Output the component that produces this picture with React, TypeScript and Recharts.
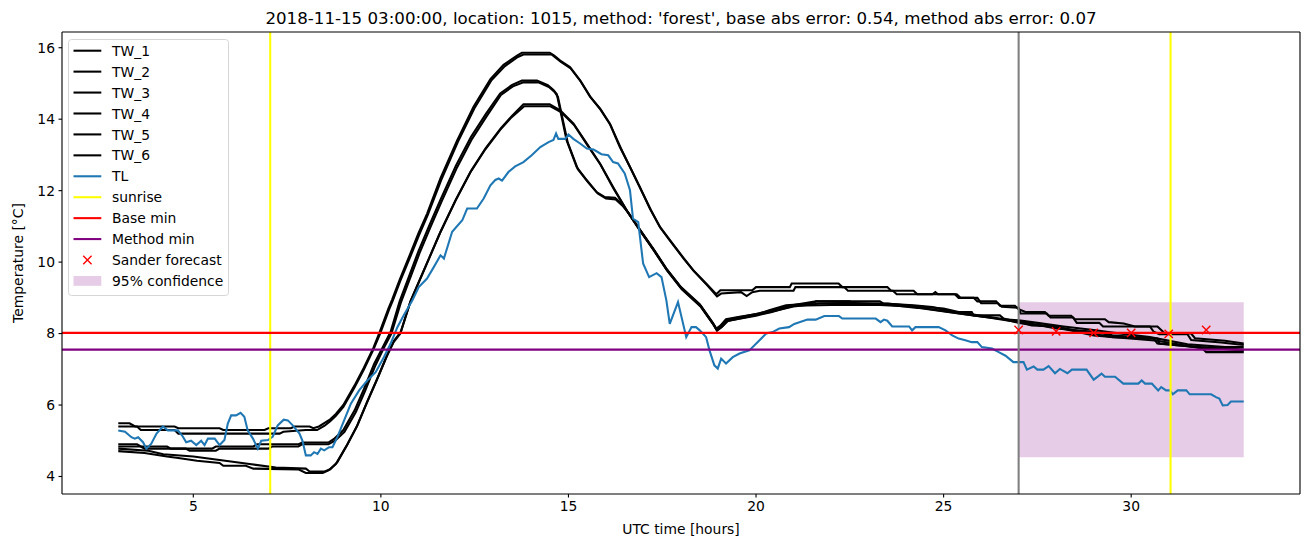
import React from 'react';
import {
  ComposedChart,
  Line,
  XAxis,
  YAxis,
  ReferenceLine,
  ReferenceArea,
  Scatter,
  Legend,
} from 'recharts';

type P = [number, number];

// ---- data (hours UTC, temperature °C) ----
const TW_1: P[] = [
  [3.0, 5.49], [3.3, 5.49], [3.45, 5.4], [4.5, 5.4], [4.6, 5.35], [5.7, 5.35], [5.8, 5.3], [6.9, 5.3],
  [7.0, 5.35], [7.6, 5.35], [7.7, 5.4], [8.1, 5.4], [8.2, 5.35], [8.35, 5.4], [8.5, 5.5], [8.65, 5.6],
  [8.8, 5.75], [9.0, 6.0], [9.3, 6.55], [9.55, 7.05], [9.8, 7.6], [9.96, 8.02], [10.2, 8.7], [10.3, 8.95],
  [10.5, 9.5], [10.79, 10.25], [11.0, 10.8], [11.23, 11.35], [11.59, 12.35], [12.03, 13.4], [12.47, 14.35],
  [12.92, 15.12], [13.27, 15.52], [13.63, 15.78], [13.76, 15.86], [14.5, 15.86], [14.62, 15.78], [14.78, 15.64],
  [15.04, 15.46], [15.31, 15.09], [15.57, 14.64], [15.84, 14.3], [16.1, 13.88], [16.37, 13.22], [16.64, 12.66],
  [16.9, 12.1], [17.17, 11.5], [17.43, 11.0], [17.7, 10.62], [18.05, 10.14], [18.32, 9.78], [18.67, 9.4],
  [18.94, 9.1], [19.05, 9.21], [19.9, 9.21], [20.0, 9.3], [20.9, 9.3], [20.95, 9.4], [22.2, 9.4], [22.3, 9.3],
  [23.5, 9.3], [23.6, 9.2], [24.2, 9.2], [24.3, 9.1], [25.3, 9.1], [25.4, 9.0], [25.8, 9.0], [25.9, 8.9],
  [26.4, 8.9], [26.5, 8.78], [26.9, 8.78], [27.0, 8.68], [27.2, 8.6], [27.7, 8.6], [27.8, 8.5], [28.4, 8.5],
  [28.5, 8.4], [29.3, 8.4], [29.4, 8.32], [29.8, 8.28], [30.1, 8.2], [30.7, 8.2], [30.9, 8.0], [31.6, 8.0],
  [31.7, 7.87], [32.5, 7.8], [33.0, 7.72],
];
const TW_2: P[] = [
  [3.0, 5.4], [3.5, 5.4], [3.6, 5.3], [4.5, 5.3], [4.6, 5.2], [7.3, 5.2], [7.4, 5.25], [8.0, 5.3], [8.3, 5.3],
  [8.5, 5.42], [8.65, 5.55], [8.8, 5.7], [9.0, 5.95], [9.3, 6.5], [9.55, 7.0], [9.8, 7.55], [9.98, 8.0],
  [10.22, 8.68], [10.32, 8.93], [10.52, 9.48], [10.81, 10.22], [11.02, 10.76], [11.25, 11.32], [11.61, 12.3],
  [12.05, 13.36], [12.49, 14.3], [12.94, 15.08], [13.3, 15.48], [13.65, 15.74], [13.8, 15.81], [14.55, 15.81],
  [14.8, 15.6], [15.06, 15.42], [15.33, 15.05], [15.6, 14.6], [15.86, 14.26], [16.12, 13.84], [16.4, 13.18],
  [16.66, 12.62], [16.92, 12.06], [17.2, 11.45], [17.45, 10.96], [17.72, 10.58], [18.07, 10.1], [18.35, 9.74],
  [18.7, 9.35], [18.96, 9.04], [19.07, 9.12], [19.6, 9.16], [19.75, 9.05], [19.9, 9.16], [20.1, 9.2], [21.0, 9.2],
  [21.05, 9.3], [22.35, 9.3], [22.45, 9.2], [23.65, 9.2], [23.75, 9.1], [24.7, 9.1], [24.78, 9.16], [24.85, 9.1],
  [25.35, 9.1], [25.45, 9.0], [25.9, 9.0], [26.0, 8.85], [26.45, 8.85], [26.55, 8.75], [27.0, 8.72], [27.05, 8.56],
  [27.75, 8.56], [27.85, 8.45], [28.45, 8.45], [28.55, 8.3], [29.15, 8.3], [29.25, 8.2], [30.5, 8.2], [30.6, 8.05],
  [30.75, 7.98], [31.5, 7.98], [31.6, 7.82], [32.4, 7.75], [33.0, 7.68],
];
const TW_3: P[] = [
  [3.0, 4.9], [3.5, 4.9], [3.6, 4.84], [4.3, 4.84], [4.4, 4.78], [5.5, 4.78], [5.6, 4.84], [6.6, 4.84], [6.7, 4.9],
  [7.8, 4.9], [7.9, 4.95], [8.6, 4.95], [8.75, 5.05], [9.0, 5.3], [9.3, 5.85], [9.55, 6.45], [9.82, 7.15],
  [10.05, 7.62], [10.26, 8.05], [10.5, 8.9], [11.0, 10.3], [11.3, 11.05], [11.59, 11.75], [12.0, 12.7],
  [12.4, 13.5], [12.8, 14.15], [13.18, 14.72], [13.5, 14.96], [13.76, 15.08], [14.16, 15.08], [14.45, 14.95],
  [14.6, 14.82], [14.69, 14.7], [14.82, 14.06], [14.95, 13.41], [15.22, 12.66], [15.49, 12.29], [15.75, 11.96],
  [15.97, 11.82], [16.24, 11.8], [16.41, 11.64], [16.55, 11.45], [16.9, 10.92], [17.26, 10.38], [17.61, 9.82],
  [18.0, 9.3], [18.5, 8.82], [18.85, 8.3], [18.94, 8.14], [19.05, 8.22], [19.2, 8.4], [19.56, 8.47], [20.1, 8.56],
  [20.35, 8.65], [20.8, 8.79], [21.5, 8.84], [21.6, 8.9], [23.3, 8.9], [23.4, 8.84], [24.2, 8.79], [24.7, 8.74],
  [25.3, 8.6], [25.75, 8.6], [25.8, 8.51], [26.5, 8.51], [26.6, 8.42], [27.0, 8.32], [27.35, 8.23], [28.0, 8.2],
  [28.9, 8.0], [29.5, 7.9], [30.7, 7.86], [30.75, 7.72], [32.0, 7.6], [33.0, 7.55],
];
const TW_4: P[] = [
  [3.0, 4.84], [3.6, 4.84], [3.7, 4.78], [4.8, 4.78], [4.9, 4.72], [5.6, 4.72], [5.7, 4.78], [7.0, 4.78],
  [7.1, 4.84], [7.8, 4.84], [7.9, 4.9], [8.6, 4.9], [8.78, 5.0], [9.03, 5.25], [9.33, 5.8], [9.58, 6.4],
  [9.85, 7.1], [10.08, 7.6], [10.28, 8.0], [10.53, 8.86], [11.03, 10.25], [11.33, 11.0], [11.62, 11.7],
  [12.03, 12.65], [12.43, 13.45], [12.83, 14.1], [13.2, 14.68], [13.52, 14.92], [13.8, 15.03], [14.2, 15.03],
  [14.48, 14.9], [14.63, 14.76], [14.72, 14.62], [14.85, 13.98], [14.98, 13.35], [15.25, 12.6], [15.52, 12.24],
  [15.78, 11.92], [16.0, 11.78], [16.26, 11.75], [16.44, 11.58], [16.58, 11.4], [16.92, 10.88], [17.28, 10.33],
  [17.63, 9.78], [18.02, 9.26], [18.52, 8.78], [18.87, 8.25], [18.96, 8.1], [19.1, 8.2], [19.22, 8.35],
  [20.0, 8.5], [20.4, 8.6], [21.0, 8.78], [22.0, 8.8], [23.3, 8.8], [24.2, 8.75], [25.3, 8.58], [26.0, 8.48],
  [26.6, 8.4], [27.0, 8.3], [28.0, 8.18], [29.0, 7.95], [30.7, 7.8], [31.9, 7.58], [32.0, 7.48], [33.0, 7.48],
];
const TW_5: P[] = [
  [3.0, 4.78], [3.8, 4.72], [4.2, 4.62], [5.0, 4.56], [5.8, 4.45], [6.5, 4.35], [7.2, 4.25], [8.0, 4.22],
  [8.1, 4.14], [8.5, 4.14], [8.65, 4.2], [8.84, 4.4], [9.11, 4.9], [9.38, 5.45], [9.64, 6.1], [9.91, 6.75],
  [10.17, 7.4], [10.35, 7.8], [10.53, 8.05], [10.8, 8.93], [11.2, 9.9], [11.59, 10.85], [12.0, 11.75],
  [12.4, 12.55], [12.8, 13.2], [13.2, 13.75], [13.5, 14.1], [13.8, 14.42], [14.5, 14.42], [14.78, 14.25],
  [15.13, 13.88], [15.49, 13.32], [15.84, 12.76], [16.19, 12.1], [16.55, 11.45], [16.9, 10.9], [17.26, 10.36],
  [17.61, 9.8], [18.0, 9.28], [18.5, 8.8], [18.85, 8.28], [18.94, 8.12], [19.05, 8.2], [19.2, 8.38], [20.0, 8.55],
  [21.0, 8.8], [21.6, 8.9], [22.5, 8.9], [22.6, 8.84], [23.5, 8.84], [24.2, 8.77], [25.0, 8.7], [25.4, 8.6],
  [26.0, 8.5], [26.6, 8.4], [27.0, 8.37], [27.5, 8.3], [28.2, 8.2], [29.0, 8.1], [29.7, 8.0], [30.5, 7.9],
  [31.5, 7.7], [32.5, 7.62], [33.0, 7.62],
];
const TW_6: P[] = [
  [3.0, 4.71], [3.7, 4.66], [4.3, 4.56], [4.6, 4.52], [5.1, 4.44], [5.7, 4.38], [5.8, 4.3], [6.4, 4.3],
  [6.6, 4.22], [7.8, 4.2], [8.0, 4.1], [8.45, 4.1], [8.6, 4.17], [8.8, 4.35], [9.08, 4.85], [9.36, 5.4],
  [9.62, 6.05], [9.89, 6.7], [10.15, 7.35], [10.34, 7.76], [10.52, 8.0], [10.78, 8.88], [11.18, 9.85],
  [11.57, 10.8], [11.98, 11.7], [12.38, 12.5], [12.78, 13.15], [13.18, 13.7], [13.48, 14.05], [13.82, 14.36],
  [14.52, 14.36], [14.8, 14.2], [15.15, 13.84], [15.5, 13.28], [15.86, 12.72], [16.2, 12.06], [16.57, 11.42],
  [16.92, 10.86], [17.28, 10.32], [17.63, 9.76], [18.02, 9.24], [18.52, 8.76], [18.87, 8.24], [18.96, 8.08],
  [19.08, 8.18], [19.25, 8.35], [20.0, 8.52], [21.0, 8.76], [21.7, 8.84], [22.5, 8.86], [23.6, 8.8],
  [24.3, 8.72], [25.5, 8.55], [26.2, 8.45], [26.7, 8.37], [27.3, 8.28], [28.0, 8.14], [29.0, 8.05],
  [29.5, 7.95], [30.6, 7.86], [30.7, 7.72], [31.8, 7.62], [33.0, 7.53],
];
const TL: P[] = [
  [3.0, 5.29], [3.18, 5.25], [3.35, 5.1], [3.44, 5.06], [3.53, 5.1], [3.66, 4.96], [3.75, 4.78], [3.88, 4.92],
  [4.02, 5.2], [4.19, 5.4], [4.32, 5.29], [4.59, 5.29], [4.72, 5.12], [4.81, 4.96], [4.94, 5.0], [5.08, 4.88],
  [5.21, 5.0], [5.3, 4.88], [5.39, 5.06], [5.57, 5.06], [5.7, 4.88], [5.83, 5.02], [5.92, 5.48], [6.01, 5.71],
  [6.14, 5.71], [6.26, 5.78], [6.36, 5.67], [6.45, 5.29], [6.59, 5.06], [6.72, 4.78], [6.81, 5.0], [6.99, 5.02],
  [7.12, 5.12], [7.25, 5.43], [7.41, 5.59], [7.52, 5.57], [7.65, 5.43], [7.83, 5.2], [7.91, 5.0], [8.0, 4.59],
  [8.13, 4.59], [8.22, 4.68], [8.31, 4.63], [8.4, 4.78], [8.49, 4.73], [8.62, 4.82], [8.71, 4.82], [8.84, 5.1],
  [9.02, 5.57], [9.2, 6.04], [9.42, 6.41], [9.64, 6.69], [9.86, 6.92], [10.08, 7.34], [10.26, 7.72],
  [10.44, 8.18], [10.61, 8.51], [10.84, 8.93], [11.01, 9.3], [11.23, 9.54], [11.41, 9.86], [11.59, 10.19],
  [11.68, 10.1], [11.9, 10.85], [12.17, 11.17], [12.3, 11.5], [12.56, 11.5], [12.74, 11.78], [12.92, 12.15],
  [13.05, 12.3], [13.14, 12.34], [13.23, 12.28], [13.4, 12.52], [13.58, 12.68], [13.8, 12.8], [14.02, 12.99],
  [14.25, 13.22], [14.47, 13.36], [14.6, 13.42], [14.67, 13.6], [14.73, 13.45], [14.91, 13.45], [15.0, 13.57],
  [15.13, 13.45], [15.31, 13.32], [15.49, 13.18], [15.67, 13.15], [15.88, 13.02], [16.06, 12.99], [16.19, 12.8],
  [16.32, 12.76], [16.5, 12.48], [16.64, 12.01], [16.72, 11.22], [16.86, 11.12], [16.99, 9.96], [17.15, 9.58],
  [17.35, 9.69], [17.48, 9.58], [17.61, 8.93], [17.7, 8.27], [17.92, 8.88], [18.14, 7.9], [18.28, 8.18],
  [18.4, 8.18], [18.5, 8.09], [18.67, 7.9], [18.76, 7.53], [18.89, 7.11], [18.98, 7.02], [19.07, 7.3],
  [19.2, 7.16], [19.38, 7.34], [19.56, 7.44], [19.82, 7.53], [20.04, 7.76], [20.27, 8.0], [20.44, 8.04],
  [20.62, 8.14], [20.88, 8.18], [21.02, 8.27], [21.37, 8.39], [21.59, 8.39], [21.82, 8.49], [22.21, 8.49],
  [22.3, 8.42], [23.19, 8.42], [23.32, 8.32], [23.41, 8.39], [23.5, 8.36], [23.63, 8.2], [24.08, 8.2],
  [24.16, 8.09], [24.25, 8.18], [24.87, 8.18], [25.05, 8.09], [25.23, 7.95], [25.4, 7.86], [25.58, 7.81],
  [25.75, 7.76], [25.9, 7.76], [26.02, 7.62], [26.29, 7.58], [26.47, 7.48], [26.65, 7.38], [26.86, 7.2],
  [27.13, 7.2], [27.22, 6.99], [27.4, 7.08], [27.5, 6.99], [27.66, 6.99], [27.8, 7.09], [27.97, 6.89],
  [28.1, 7.01], [28.3, 6.89], [28.42, 6.99], [28.81, 6.99], [29.0, 6.71], [29.1, 6.79], [29.21, 6.88],
  [29.3, 6.79], [29.57, 6.79], [29.79, 6.6], [30.19, 6.6], [30.28, 6.69], [30.37, 6.6], [30.55, 6.6],
  [30.72, 6.41], [30.8, 6.5], [30.93, 6.41], [31.03, 6.41], [31.11, 6.3], [31.24, 6.41], [31.47, 6.41],
  [31.56, 6.3], [32.13, 6.3], [32.26, 6.22], [32.35, 6.18], [32.44, 5.99], [32.57, 6.0], [32.66, 6.1],
  [33.0, 6.1],
];
const SUNRISE_HOURS = [7.05, 31.05];
const FORECAST_START_HOUR = 27;
const BASE_MIN = 8.02;
const METHOD_MIN = 7.55;
const SANDER_HOURS = [27, 28, 29, 30, 31, 32];
const SANDER_VALUES = [8.1, 8.06, 8.02, 8.02, 7.99, 8.1];
const CONF_HOURS = [27, 33];
const CONF_RANGE = [4.54, 8.88];
const X_TICKS = [5, 10, 15, 20, 25, 30];
const Y_TICKS = [4, 6, 8, 10, 12, 14, 16];
const X_DOMAIN = [1.5, 34.5];
const Y_DOMAIN = [3.51, 16.44];

const TITLE =
  "2018-11-15 03:00:00, location: 1015, method: 'forest', base abs error: 0.54, method abs error: 0.07";

const FONT = "'DejaVu Sans', sans-serif";
const LW = 2.08; // 1.5pt at 100 dpi
const SPINE = 1.11; // 0.8pt
const TW_SERIES: { name: string; pts: P[] }[] = [
  { name: 'TW_1', pts: TW_1 },
  { name: 'TW_2', pts: TW_2 },
  { name: 'TW_3', pts: TW_3 },
  { name: 'TW_4', pts: TW_4 },
  { name: 'TW_5', pts: TW_5 },
  { name: 'TW_6', pts: TW_6 },
];

const toPts = (a: P[]) => a.map(([x, y]) => ({ x, y }));
const sanderData = SANDER_HOURS.map((x, i) => ({ x, y: SANDER_VALUES[i] }));

const XMark = (props: any) => {
  const { cx, cy } = props;
  if (cx == null || cy == null) return null;
  const s = 4.17;
  return (
    <path
      d={`M${cx - s},${cy - s}L${cx + s},${cy + s}M${cx - s},${cy + s}L${cx + s},${cy - s}`}
      stroke="#ff0000"
      strokeWidth={1.39}
      fill="none"
    />
  );
};

type LegendItem = { label: string; kind: 'line' | 'x' | 'patch'; color: string };
const LEGEND_ITEMS: LegendItem[] = [
  ...TW_SERIES.map((s) => ({ label: s.name, kind: 'line' as const, color: '#000000' })),
  { label: 'TL', kind: 'line', color: '#1f77b4' },
  { label: 'sunrise', kind: 'line', color: '#ffff00' },
  { label: 'Base min', kind: 'line', color: '#ff0000' },
  { label: 'Method min', kind: 'line', color: '#800080' },
  { label: 'Sander forecast', kind: 'x', color: '#ff0000' },
  { label: '95% confidence', kind: 'patch', color: '#800080' },
];

const LegendBox = () => {
  const w = 161;
  const h = 257;
  const row0 = 11.7;
  const step = 20.93;
  return (
    <svg width={w} height={h} style={{ display: 'block' }}>
      <rect x={0.5} y={0.5} width={w - 1} height={h - 1} rx={3} fill="#ffffff" fillOpacity={0.8} stroke="#d6d6d6" />
      {LEGEND_ITEMS.map((it, i) => {
        const cy = row0 + i * step;
        return (
          <g key={it.label}>
            {it.kind === 'line' && (
              <line x1={5.5} x2={33.3} y1={cy} y2={cy} stroke={it.color} strokeWidth={LW} />
            )}
            {it.kind === 'x' && (
              <path
                d={`M${19.4 - 4.17},${cy - 4.17}L${19.4 + 4.17},${cy + 4.17}M${19.4 - 4.17},${cy + 4.17}L${19.4 + 4.17},${cy - 4.17}`}
                stroke={it.color}
                strokeWidth={1.39}
              />
            )}
            {it.kind === 'patch' && (
              <rect x={5.5} y={cy - 4.9} width={27.8} height={9.8} fill={it.color} fillOpacity={0.2} />
            )}
            <text x={44} y={cy + 5.1} fontSize={13.89} fontFamily={FONT} fill="#000">
              {it.label}
            </text>
          </g>
        );
      })}
    </svg>
  );
};

export default function App() {
  return (
    <div style={{ position: 'absolute', left: 0, top: 0, width: 1311, height: 547, background: '#fff' }}>
      <ComposedChart
        width={1311}
        height={547}
        margin={{ top: 32, right: 11, bottom: 23, left: 12 }}
        style={{ fontFamily: FONT }}
      >
        <XAxis
          xAxisId="x"
          dataKey="x"
          type="number"
          domain={X_DOMAIN}
          ticks={X_TICKS}
          allowDataOverflow
          height={30}
          axisLine={{ stroke: '#000', strokeWidth: SPINE }}
          tickLine={{ stroke: '#000', strokeWidth: SPINE }}
          tickSize={3.5}
          tickMargin={3.5}
          tick={{ fill: '#000', fontSize: 13.89, fontFamily: FONT }}
        />
        <YAxis
          yAxisId="y"
          dataKey="y"
          type="number"
          domain={Y_DOMAIN}
          ticks={Y_TICKS}
          allowDataOverflow
          width={50}
          axisLine={{ stroke: '#000', strokeWidth: SPINE }}
          tickLine={{ stroke: '#000', strokeWidth: SPINE }}
          tickSize={3.5}
          tickMargin={3.5}
          tick={{ fill: '#000', fontSize: 13.89, fontFamily: FONT }}
        />
        <ReferenceArea
          xAxisId="x"
          yAxisId="y"
          x1={CONF_HOURS[0]}
          x2={CONF_HOURS[1]}
          y1={CONF_RANGE[0]}
          y2={CONF_RANGE[1]}
          fill="#800080"
          fillOpacity={0.2}
          stroke="none"
        />
        {TW_SERIES.map((s) => (
          <Line
            key={s.name}
            xAxisId="x"
            yAxisId="y"
            data={toPts(s.pts)}
            dataKey="y"
            name={s.name}
            type="linear"
            stroke="#000000"
            strokeWidth={LW}
            dot={false}
            activeDot={false}
            isAnimationActive={false}
          />
        ))}
        <Line
          xAxisId="x"
          yAxisId="y"
          data={toPts(TL)}
          dataKey="y"
          name="TL"
          type="linear"
          stroke="#1f77b4"
          strokeWidth={LW}
          dot={false}
          activeDot={false}
          isAnimationActive={false}
        />
        {SUNRISE_HOURS.map((h) => (
          <ReferenceLine key={h} xAxisId="x" yAxisId="y" x={h} stroke="#ffff00" strokeWidth={LW} />
        ))}
        <ReferenceLine xAxisId="x" yAxisId="y" y={BASE_MIN} stroke="#ff0000" strokeWidth={LW} />
        <ReferenceLine xAxisId="x" yAxisId="y" y={METHOD_MIN} stroke="#800080" strokeWidth={LW} />
        <ReferenceLine xAxisId="x" yAxisId="y" x={FORECAST_START_HOUR} stroke="#808080" strokeWidth={LW} />
        <Scatter
          xAxisId="x"
          yAxisId="y"
          data={sanderData}
          dataKey="y"
          name="Sander forecast"
          shape={XMark}
          isAnimationActive={false}
        />
        {/* top and right spines of the axes frame */}
        <ReferenceLine xAxisId="x" yAxisId="y" y={Y_DOMAIN[1]} stroke="#000" strokeWidth={SPINE} />
        <ReferenceLine xAxisId="x" yAxisId="y" x={X_DOMAIN[1]} stroke="#000" strokeWidth={SPINE} />
        <Legend
          layout="vertical"
          align="center"
          verticalAlign="middle"
          content={() => <LegendBox />}
          wrapperStyle={{ left: 68, top: 39, width: 161, height: 257, margin: 0 }}
        />
      </ComposedChart>
      <svg
        width={1311}
        height={547}
        style={{ position: 'absolute', left: 0, top: 0, pointerEvents: 'none' }}
      >
        <text x={681} y={23.5} textAnchor="middle" fontSize={16.67} fontFamily={FONT} fill="#000">
          {TITLE}
        </text>
        <text x={681} y={534} textAnchor="middle" fontSize={13.89} fontFamily={FONT} fill="#000">
          UTC time [hours]
        </text>
        <text
          x={0}
          y={0}
          transform="translate(23,263) rotate(-90)"
          textAnchor="middle"
          fontSize={13.89}
          fontFamily={FONT}
          fill="#000"
        >
          Temperature [°C]
        </text>
      </svg>
    </div>
  );
}
